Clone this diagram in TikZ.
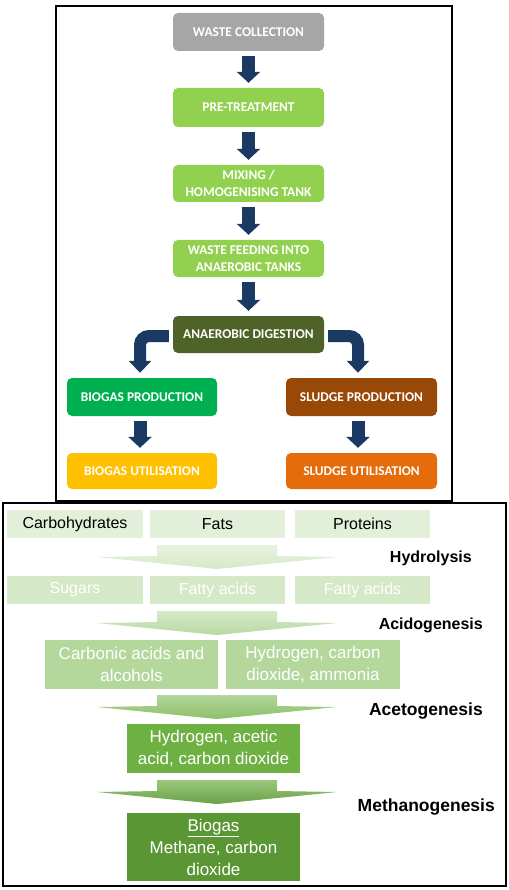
\documentclass[tikz,border=0pt]{standalone}
\usepackage{fontspec}
\setmainfont{Liberation Sans}
\newfontfamily\carl{Carlito}
\usetikzlibrary{arrows.meta}
\definecolor{navy}{HTML}{1B3A63}
\definecolor{cgray}{HTML}{A6A6A6}
\definecolor{cltgreen}{HTML}{92D050}
\definecolor{colive}{HTML}{4F6228}
\definecolor{cgreen}{HTML}{00B050}
\definecolor{cbrown}{HTML}{984807}
\definecolor{cyellow}{HTML}{FFC000}
\definecolor{corange}{HTML}{E46C0A}
\definecolor{rowa}{HTML}{E2F0D9}
\definecolor{rowb}{HTML}{D5E9C8}
\definecolor{rowc}{HTML}{B4D79C}
\definecolor{rowd}{HTML}{6FB043}
\definecolor{rowe}{HTML}{5B9634}
\newcommand{\wdarrow}[3]{%
  \shade[top color=#2,bottom color=#3] (157,#1) -- (277,#1) -- (277,#1+11) -- (337,#1+12) -- (217,#1+24) -- (97,#1+12) -- (157,#1+11) -- cycle;}
\begin{document}
\begin{tikzpicture}[x=1pt,y=-1pt,
  flow/.style={rounded corners=5pt, inner sep=0pt, minimum width=151pt, minimum height=38pt,
    align=center, text=white, font=\carl\bfseries\fontsize{13.4}{16.5}\selectfont},
  darr/.style={draw=navy, line width=13pt, -{Triangle[width=23pt,length=11pt]},
    shorten <=5pt, shorten >=5pt},
  carr/.style={draw=navy, line width=12pt, rounded corners=9pt, -{Triangle[width=22pt,length=12pt]},
    shorten <=4pt, shorten >=5pt},
  bx/.style={inner sep=0pt, minimum height=28pt, align=center, font=\fontsize{16}{20}\selectfont},
  bxl/.style={inner sep=0pt, align=center, text=white, font=\fontsize{17}{22}\selectfont},
  stage/.style={anchor=east, inner sep=0pt, font=\bfseries}
]
\useasboundingbox (0,0) rectangle (508,890);
% panels
\draw[line width=1.1pt] (56,6) rectangle (452,501);
\draw[line width=1.1pt] (3,503) rectangle (506,886);

% top flow chart
\node[flow, fill=cgray] (wc) at (248.5,32) {WASTE COLLECTION};
\node[flow, fill=cltgreen, minimum height=39pt] (pt) at (248.5,107.5) {PRE-TREATMENT};
\node[flow, fill=cltgreen, minimum height=37pt] (mx) at (248.5,183.5) {MIXING /\\HOMOGENISING TANK};
\node[flow, fill=cltgreen, minimum height=37pt] (wf) at (248.5,258.5) {WASTE FEEDING INTO\\ANAEROBIC TANKS};
\node[flow, fill=colive, minimum height=37pt] (ad) at (248.5,334.5) {ANAEROBIC DIGESTION};
\node[flow, fill=cgreen, minimum width=150pt] (bp) at (142,397) {BIOGAS PRODUCTION};
\node[flow, fill=cbrown] (sp) at (361.5,397) {SLUDGE PRODUCTION};
\node[flow, fill=cyellow, minimum width=150pt, minimum height=36pt] (bu) at (142,471) {BIOGAS UTILISATION};
\node[flow, fill=corange, minimum height=36pt] (su) at (361.5,471) {SLUDGE UTILISATION};

\draw[darr] (wc) -- (pt);
\draw[darr] (pt) -- (mx);
\draw[darr] (mx) -- (wf);
\draw[darr] (wf) -- (ad);
\draw[carr] ([yshift=-1.5pt]ad.west) -| ([xshift=-2pt]bp.north);
\draw[carr] ([yshift=-1.5pt]ad.east) -| ([xshift=-3.5pt]sp.north);
\draw[darr] ([xshift=-2pt]bp.south) -- ([xshift=-2pt]bu.north);
\draw[darr] ([xshift=-3.5pt]sp.south) -- ([xshift=-3.5pt]su.north);

% bottom panel
\node[bx, fill=rowa, minimum width=136pt] (c1) at (75,524) {Carbohydrates};
\node[bx, fill=rowa, minimum width=135pt] (c2) at (217.5,524) {Fats};
\node[bx, fill=rowa, minimum width=135pt] (c3) at (362.5,524) {Proteins};

\wdarrow{545}{rowa!80!white}{rowb}
\node[stage, font=\bfseries\fontsize{16}{19}\selectfont] (hy) at (472,558) {Hydrolysis};

\node[bx, fill=rowb, text=white, minimum width=136pt] (s1) at (75,590) {Sugars};
\node[bx, fill=rowb, text=white, minimum width=135pt] (s2) at (217.5,590) {Fatty acids};
\node[bx, fill=rowb, text=white, minimum width=135pt] (s3) at (362.5,590) {Fatty acids};

\wdarrow{611}{rowb}{rowc!85!rowb}
\node[stage, font=\bfseries\fontsize{16}{19}\selectfont] (ac) at (483,625) {Acidogenesis};

\node[bxl, fill=rowc, minimum width=173pt, minimum height=49pt] (t1) at (131.5,664.5) {Carbonic acids and\\alcohols};
\node[bxl, fill=rowc, minimum width=174pt, minimum height=49pt] (t2) at (313,664.5) {Hydrogen, carbon\\dioxide, ammonia};

\wdarrow{695}{rowc}{rowd!80!white}
\node[stage, font=\bfseries\fontsize{17.5}{20}\selectfont] (at) at (483,711) {Acetogenesis};

\node[bxl, fill=rowd, minimum width=173pt, minimum height=49pt] (h1) at (213.5,748.5) {Hydrogen, acetic\\acid, carbon dioxide};

\wdarrow{780}{rowd!70!white}{rowe!90!white}
\node[stage, font=\bfseries\fontsize{17.5}{20}\selectfont] (me) at (495,807) {Methanogenesis};

\node[bxl, fill=rowe, minimum width=173pt, minimum height=68pt] (bg) at (213.5,847) {\underline{Biogas}\\Methane, carbon\\dioxide};
\end{tikzpicture}
\end{document}
